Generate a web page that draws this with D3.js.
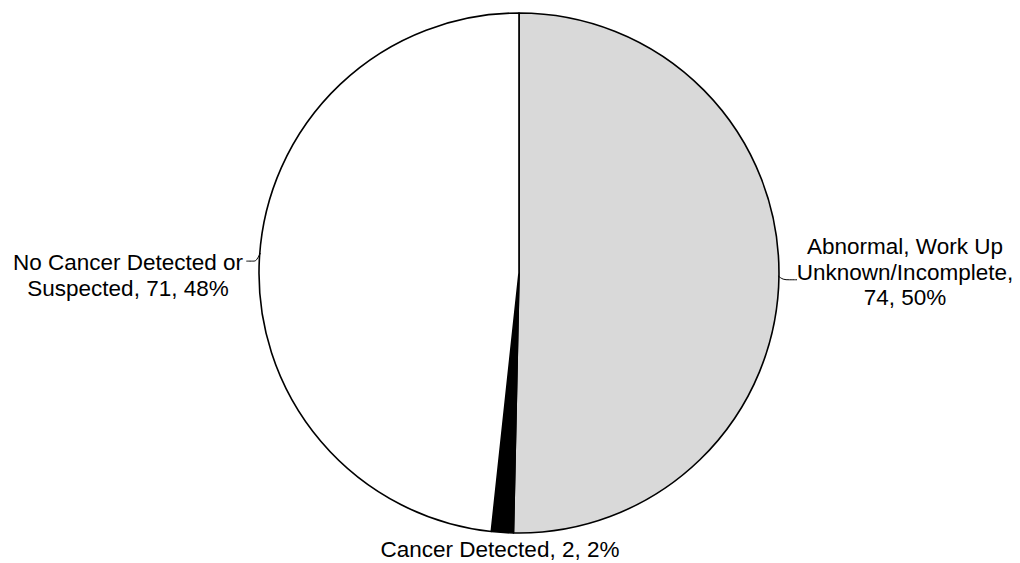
<!DOCTYPE html>
<html><head><meta charset="utf-8">
<script src="https://cdn.jsdelivr.net/npm/d3@7"></script>
<style>body{margin:0;background:#fff}svg{display:block}</style>
</head><body>
<svg id="c" width="1020" height="563"></svg>
<script>
const categories = ["Abnormal, Work Up Unknown/Incomplete", "Cancer Detected", "No Cancer Detected or Suspected"];
const values = [74, 2, 71];
const percents = ["50%", "2%", "48%"];
const colors = ["#d9d9d9", "#000000", "#ffffff"];
const labelLines = [
  ["Abnormal, Work Up", "Unknown/Incomplete,", "74, 50%"],
  ["Cancer Detected, 2, 2%"],
  ["No Cancer Detected or", "Suspected, 71, 48%"]
];

const svg = d3.select("#c");
const cx = 519, cy = 273, R = 260;
const g = svg.append("g").attr("transform", `translate(${cx},${cy})`);
const pie = d3.pie().sort(null).value(d => d)(values);
const arc = d3.arc().innerRadius(0).outerRadius(R);
g.selectAll("path.s").data(pie).enter().append("path")
  .attr("class","s")
  .attr("d", arc)
  .attr("fill", (d,i) => colors[i])
  .attr("stroke", "#000").attr("stroke-width", 1.6).attr("stroke-linejoin","round");

const font = "Liberation Sans, Arial, sans-serif";
const fs = 22.5, lh = 25.5;
const labelPos = [
  {x: 905 - cx, y: 254 - cy, anchor: "middle"},
  {x: 500 - cx, y: 557 - cy, anchor: "middle"},
  {x: 128 - cx, y: 270 - cy, anchor: "middle"}
];
pie.forEach((d,i) => {
  const t = g.append("text")
    .attr("x", labelPos[i].x).attr("y", labelPos[i].y)
    .attr("text-anchor", labelPos[i].anchor)
    .attr("font-family", font).attr("font-size", fs).attr("fill", "#000");
  labelLines[i].forEach((line, k) => {
    t.append("tspan").attr("x", labelPos[i].x).attr("dy", k === 0 ? 0 : lh).text(line);
  });
});

// leader lines
const mid = d => (d.startAngle + d.endAngle) / 2;
const edge = d => [Math.sin(mid(d)) * R, -Math.cos(mid(d)) * R];
const lineGen = d3.line().curve(d3.curveBasis);
{
  const e = edge(pie[0]);
  g.append("path").attr("d", lineGen([[e[0]-1, e[1]], [e[0]+4, e[1]+4], [e[0]+10, e[1]+4], [e[0]+18, e[1]+4]]))
    .attr("fill","none").attr("stroke","#000").attr("stroke-width",1);
}
{
  const e = edge(pie[2]);
  g.append("path").attr("d", lineGen([[e[0]-13, e[1]+2], [e[0]-6, e[1]+2], [e[0]-3, e[1]+2], [e[0]+1, e[1]-6]]))
    .attr("fill","none").attr("stroke","#000").attr("stroke-width",1);
}
</script>
</body></html>
